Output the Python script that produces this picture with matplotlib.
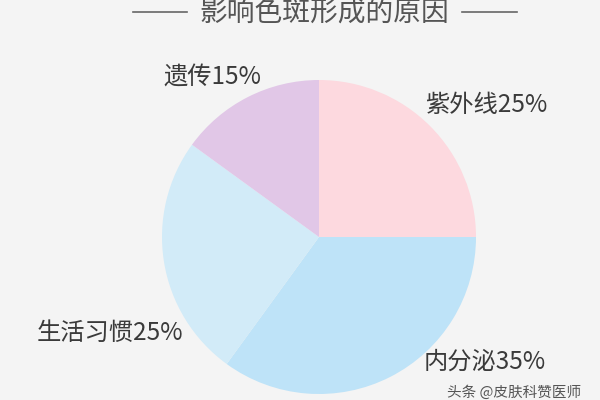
import matplotlib
matplotlib.use("Agg")
import matplotlib.pyplot as plt

plt.rcParams['font.family'] = ['Noto Sans CJK SC', 'DejaVu Sans']

categories = ["紫外线", "内分泌", "生活习惯", "遗传"]
values = [25, 35, 25, 15]
colors = ["#fdd9df", "#bee3f8", "#d2ebf8", "#e1c7e7"]
title = "影响色斑形成的原因"
watermark = "头条 @皮肤科赞医师"

fig = plt.figure(figsize=(6, 4), dpi=100, facecolor="#f4f4f4")
ax = fig.add_axes([0, 0, 1, 1])
ax.set_facecolor("#f4f4f4")

ax.pie(values, colors=colors, startangle=90, counterclock=False,
       center=(319, 163), radius=157, frame=True,
       wedgeprops=dict(linewidth=0))
ax.set_xlim(0, 600)
ax.set_ylim(0, 400)
ax.set_aspect("equal")
ax.axis("off")

label_pos = [(425, 295), (424, 38), (37, 67), (163, 323)]
for (x, y), c, v in zip(label_pos, categories, values):
    ax.text(x, y, f"{c}{v}%", fontsize=17.5, color="#3a3a3a", ha="left", va="center",
            fontweight="light")

ax.text(324, 386, title, fontsize=20, color="#555555", ha="center", va="center",
        fontweight="light")
ax.plot([133, 187], [388, 388], color="#666666", lw=1.2)
ax.plot([462, 517], [388, 388], color="#666666", lw=1.2)

ax.text(447, 7, watermark, fontsize=10.5, color="#555555", ha="left", va="center")

fig.savefig("out.png", dpi=100, facecolor=fig.get_facecolor())
